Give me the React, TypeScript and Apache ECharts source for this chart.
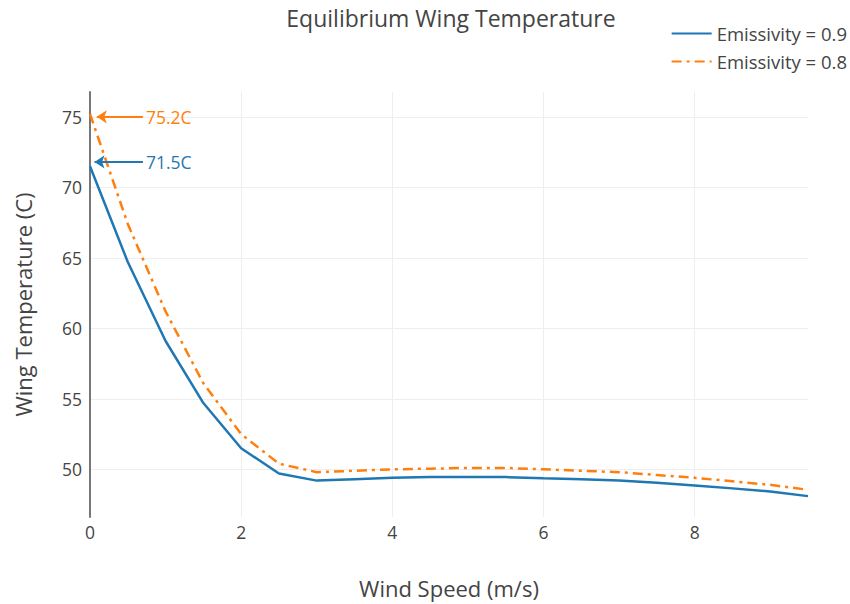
import React, { useEffect, useRef } from "react";
import * as echarts from "echarts";

const windSpeed = [0, 0.5, 1, 1.5, 2, 2.5, 3, 3.5, 4, 4.5, 5, 5.5, 6, 6.5, 7, 7.5, 8, 8.5, 9, 9.5];
const temp09 = [71.5, 64.7, 59.1, 54.7, 51.5, 49.7, 49.2, 49.3, 49.4, 49.45, 49.45, 49.45, 49.37, 49.3, 49.2, 49.05, 48.85, 48.65, 48.43, 48.1];
const temp08 = [75.2, 67.4, 61.2, 56.1, 52.5, 50.4, 49.8, 49.9, 50.0, 50.05, 50.1, 50.1, 50.0, 49.9, 49.8, 49.6, 49.4, 49.15, 48.9, 48.55];
const seriesNames = ["Emissivity = 0.9", "Emissivity = 0.8"];
const annotations = [
  { label: "71.5C", y: 71.8, from: 0.7, to: 0.06 },
  { label: "75.2C", y: 75.0, from: 0.7, to: 0.09 },
];

const FONT = "'Open Sans', sans-serif";
const BLUE = "#1f77b4";
const ORANGE = "#ff7f0e";

export default function App() {
  const ref = useRef<HTMLDivElement>(null);
  useEffect(() => {
    if (!ref.current) return;
    const chart = echarts.init(ref.current, null, { renderer: "svg" });
    const mkAnn = (a: { label: string; y: number; from: number; to: number }, color: string) => ({
      silent: true,
      symbol: ["none", "arrow"],
      symbolSize: 10,
      lineStyle: { color, width: 2, type: "solid" },
      label: {
        show: true,
        position: "start",
        distance: 3,
        formatter: a.label,
        color,
        fontFamily: FONT,
        fontSize: 17.5,
      },
      data: [[{ coord: [a.from, a.y] }, { coord: [a.to, a.y] }]],
    });
    chart.setOption({
      animation: false,
      textStyle: { fontFamily: FONT },
      title: {
        text: "Equilibrium Wing Temperature",
        left: 446,
        textAlign: "center",
        top: 1,
        textStyle: { fontFamily: FONT, fontSize: 23, fontWeight: "normal", color: "#444" },
      },
      legend: {
        orient: "vertical",
        right: -2,
        top: 19,
        itemWidth: 40,
        itemHeight: 14,
        itemGap: 9,
        itemStyle: { opacity: 0 },
        textStyle: { fontFamily: FONT, fontSize: 18.5, color: "#444" },
        data: seriesNames,
      },
      grid: { left: 90, right: 42, top: 92, bottom: 84, containLabel: false },
      xAxis: {
        type: "value",
        min: 0,
        max: 9.5,
        interval: 2,
        name: "Wind Speed (m/s)",
        nameLocation: "middle",
        nameGap: 60,
        nameTextStyle: { fontFamily: FONT, fontSize: 22, color: "#444" },
        axisLine: { show: false },
        axisTick: { show: false },
        axisLabel: { color: "#444", fontSize: 17.5, fontFamily: FONT, margin: 6, showMaxLabel: false },
        splitLine: { show: true, showMaxLine: false, lineStyle: { color: "#eee", width: 1 } },
      },
      yAxis: {
        type: "value",
        min: 46.62,
        max: 76.76,
        name: "Wing Temperature (C)",
        nameLocation: "middle",
        nameGap: 56,
        nameTextStyle: { fontFamily: FONT, fontSize: 22, color: "#444" },
        axisLine: { show: true, onZero: false, lineStyle: { color: "#777", width: 2 } },
        axisTick: { show: false },
        axisLabel: { color: "#444", fontSize: 17.5, fontFamily: FONT, margin: 8, showMinLabel: false, showMaxLabel: false },
        splitLine: { show: true, showMinLine: false, showMaxLine: false, lineStyle: { color: "#eee", width: 1 } },
      },
      series: [
        {
          name: seriesNames[0],
          type: "line",
          data: windSpeed.map((x, i) => [x, temp09[i]]),
          symbol: "none",
          lineStyle: { color: BLUE, width: 2.5 },
          itemStyle: { color: BLUE },
          markLine: mkAnn(annotations[0], BLUE),
          z: 3,
        },
        {
          name: seriesNames[1],
          type: "line",
          data: windSpeed.map((x, i) => [x, temp08[i]]),
          symbol: "none",
          lineStyle: { color: ORANGE, width: 2.5, type: [10, 5, 3, 5] },
          itemStyle: { color: ORANGE },
          markLine: mkAnn(annotations[1], ORANGE),
          z: 2,
        },
      ],
    });
    return () => chart.dispose();
  }, []);
  return <div ref={ref} style={{ width: 850, height: 604, position: "absolute", left: 0, top: 0 }} />;
}
